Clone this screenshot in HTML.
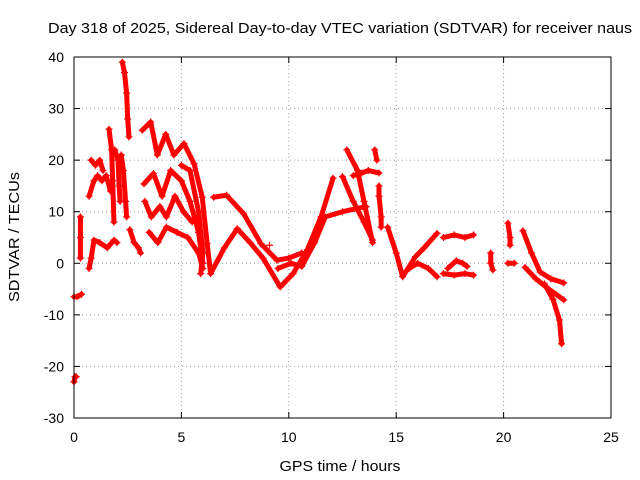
<!DOCTYPE html>
<html><head><meta charset="utf-8"><style>
body{margin:0;background:#fff}
svg{display:block;font-family:"Liberation Sans",sans-serif}
</style></head><body>
<svg id="chart" width="640" height="480" viewBox="0 0 640 480">
<rect width="640" height="480" fill="#fff"/>
<text x="340" y="33" font-size="15" text-anchor="middle" textLength="584" lengthAdjust="spacingAndGlyphs">Day 318 of 2025, Sidereal Day-to-day VTEC variation (SDTVAR) for receiver naus</text>
<text x="340" y="471" font-size="15" text-anchor="middle" textLength="121" lengthAdjust="spacingAndGlyphs">GPS time / hours</text>
<text transform="translate(19,237) rotate(-90)" font-size="15" text-anchor="middle" textLength="130" lengthAdjust="spacingAndGlyphs">SDTVAR / TECUs</text>
<g id="grid"></g><g id="ticks"></g><g id="marks"></g>
<rect x="74" y="57" width="537" height="361" fill="none" stroke="#000" stroke-width="1"/>
</svg>
<script>
const xTicks=[0,5,10,15,20,25];
const yTicks=[-30,-20,-10,0,10,20,30,40];
const track1=[[0,-6.5],[0.15,-6.5],[0.35,-6]];
const track2=[[0,-23],[0.05,-22],[0.1,-22]];
const track3=[[0.3,1],[0.3,5],[0.3,9]];
const track4=[[0.7,-1],[0.8,1],[0.93,4.5],[1.2,4],[1.55,3],[1.86,4.5],[2.0,4]];
const track5=[[0.7,13],[0.93,16],[1.1,17],[1.3,16],[1.5,17],[1.7,14]];
const track6=[[0.8,20],[1.0,19],[1.2,20],[1.35,18]];
const track7=[[1.63,26],[1.75,22],[1.8,16],[1.86,8]];
const track8=[[1.9,22],[2.05,20],[2.1,15],[2.15,12]];
const track9=[[2.25,39],[2.35,37],[2.45,33],[2.5,28],[2.56,24.5]];
const track10=[[2.2,21],[2.3,18],[2.4,12],[2.45,9]];
const track11=[[2.6,6.5],[2.8,4],[3.0,3],[3.1,2]];
const track12=[[3.18,25.8],[3.57,27.4],[3.88,21],[4.27,25],[4.65,21],[5.12,23.2],[5.59,19.3],[5.97,12.8],[6.2,3.8],[6.36,-2],[7.0,3],[7.6,6.7],[8.2,4],[8.8,1],[9.6,-4.6],[10.2,-2],[10.86,2.6],[11.5,9],[12.06,16.5]];
const track13=[[3.26,15.4],[3.7,17.4],[4.1,13],[4.5,18],[5.0,16],[5.4,12],[5.8,6],[6.0,0]];
const track14=[[3.3,12],[3.6,9],[4.0,11],[4.3,9],[4.7,13],[5.1,10],[5.5,8]];
const track15=[[3.5,6],[3.9,4],[4.3,7],[4.8,6],[5.3,5],[5.8,2],[6.0,-1]];
const track16=[[5.0,19],[5.4,18],[5.8,10],[6.0,2],[5.9,-2]];
const track17=[[6.5,12.8],[7.1,13.2],[7.9,9.6],[8.7,3.8],[9.45,0.6],[10,1],[10.6,2]];
const track18=[[9.5,-1],[10.1,0],[10.6,-0.6],[11.2,4],[11.7,9],[12.5,10],[13.6,11]];
const track19=[[12.7,22],[13.2,18],[13.5,12],[13.9,4]];
const track20=[[12.5,16.8],[13.0,12],[13.5,8],[13.9,4.5]];
const track21=[[13.0,17],[13.4,17.5],[13.7,18],[14.2,17.5]];
const track22=[[14.0,22],[14.1,20]];
const track23=[[14.2,15],[14.2,13],[14.3,9],[14.3,7]];
const track24=[[14.6,7],[15.0,2],[15.3,-2.6],[15.9,1.3],[16.3,3],[16.9,5.8]];
const track25=[[15.6,-1],[16.0,0],[16.5,-1],[16.9,-2.6]];
const track26=[[17.2,5],[17.7,5.5],[18.2,5],[18.6,5.5]];
const track27=[[17.2,-2],[17.7,-2.3],[18.2,-2],[18.6,-2.3]];
const track28=[[17.4,-1],[17.8,0.5],[18.1,0],[18.3,-0.6]];
const track29=[[19.4,2],[19.4,0],[19.5,-1.3]];
const track30=[[20.2,7.8],[20.3,5],[20.3,3.5]];
const track31=[[20.2,0],[20.5,0]];
const track32=[[20.9,6.3],[21.3,2],[21.7,-1.7],[22.2,-3],[22.8,-3.8]];
const track33=[[21.0,-0.8],[21.5,-3],[22.1,-5],[22.8,-7.1]];
const track34=[[21.9,-4],[22.3,-7],[22.6,-11],[22.7,-15.6]];
const track35=[[9.1,3.5]];
const tracks=[track1,track2,track3,track4,track5,track6,track7,track8,track9,track10,track11,track12,track13,track14,track15,track16,track17,track18,track19,track20,track21,track22,track23,track24,track25,track26,track27,track28,track29,track30,track31,track32,track33,track34,track35];
const NS="http://www.w3.org/2000/svg";
const X=v=>74+v*(537/25);
const Y=v=>418-(v+30)*(361/70);
function mk(tag,attrs,parent){const e=document.createElementNS(NS,tag);for(const k in attrs)e.setAttribute(k,attrs[k]);parent.appendChild(e);return e;}
const grid=document.getElementById('grid'),ticks=document.getElementById('ticks'),marks=document.getElementById('marks');
xTicks.forEach(t=>{
 const g=mk('line',{x1:X(t),x2:X(t),y1:57,y2:418,stroke:'#a0a0a0','stroke-dasharray':'1,3'},grid);
 
 
 mk('line',{x1:X(t),x2:X(t),y1:418,y2:412,stroke:'#000'},ticks);
 mk('line',{x1:X(t),x2:X(t),y1:57,y2:63,stroke:'#000'},ticks);
 const l=mk('text',{x:X(t),y:442,'font-size':14,'text-anchor':'middle'},ticks);
 l.textContent=t;
 
 
});
yTicks.forEach(t=>{
 const g=mk('line',{x1:74,x2:611,y1:Y(t),y2:Y(t),stroke:'#a0a0a0','stroke-dasharray':'1,3'},grid);
 
 
 mk('line',{x1:74,x2:80,y1:Y(t),y2:Y(t),stroke:'#000'},ticks);
 mk('line',{x1:611,x2:605,y1:Y(t),y2:Y(t),stroke:'#000'},ticks);
 const l=mk('text',{x:64,y:Y(t)+5,'font-size':14,'text-anchor':'end'},ticks);
 l.textContent=t;
 
 
});
tracks.forEach((tr,i)=>{
 const g=mk('g',{},marks);
 
 
 if(tr.length>1){
  mk('polyline',{points:tr.map(p=>X(p[0])+','+Y(p[1])).join(' '),fill:'none',stroke:'#f00','stroke-width':5,'stroke-linejoin':'round','stroke-linecap':'round'},g);
 }
 tr.forEach(p=>{
  const x=X(p[0]),y=Y(p[1]);
  const m=mk('path',{d:`M${x-3.5},${y}H${x+3.5}M${x},${y-3.5}V${y+3.5}`,stroke:'#f00','stroke-width':1.2},g);
  
  
 });
});
</script>
</body></html>
